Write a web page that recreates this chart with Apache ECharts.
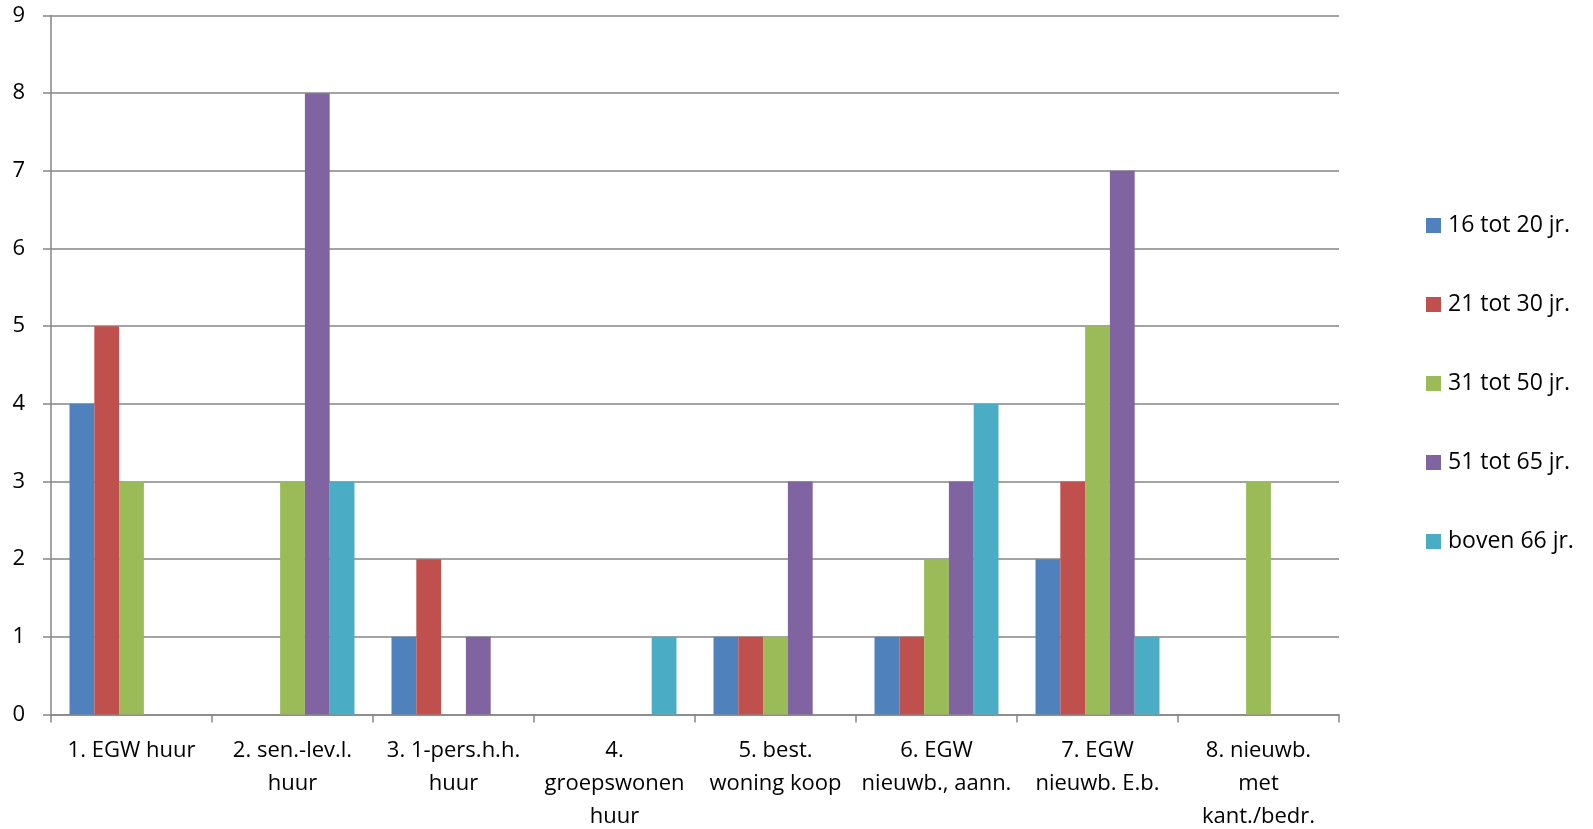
<!DOCTYPE html>
<html><head><meta charset="utf-8">
<script src="https://cdn.jsdelivr.net/npm/echarts@6/dist/echarts.min.js"></script>
<style>html,body{margin:0;padding:0;background:#fff}#c{width:1593px;height:829px}</style>
</head><body><div id="c"></div>
<script>
const categories = ["1. EGW huur","2. sen.-lev.l.\nhuur","3. 1-pers.h.h.\nhuur","4.\ngroepswonen\nhuur","5. best.\nwoning koop","6. EGW\nnieuwb., aann.","7. EGW\nnieuwb. E.b.","8. nieuwb.\nmet\nkant./bedr."];
const seriesNames = ["16 tot 20 jr.","21 tot 30 jr.","31 tot 50 jr.","51 tot 65 jr.","boven 66 jr."];
const s16_20 = [4,0,1,0,1,1,2,0];
const s21_30 = [5,0,2,0,1,1,3,0];
const s31_50 = [3,3,0,0,1,2,5,3];
const s51_65 = [0,8,1,0,3,3,7,0];
const s66plus = [0,3,0,1,0,4,1,0];
const yTicks = [0,1,2,3,4,5,6,7,8,9];
const colors = ["#4F81BD","#C0504D","#9BBB59","#8064A2","#4BACC6"];
const values = [s16_20,s21_30,s31_50,s51_65,s66plus];
const font = "Open Sans, Noto Sans, sans-serif";
const chart = echarts.init(document.getElementById('c'));
chart.setOption({
  animation:false,
  color:colors,
  grid:{left:51,right:254,top:15.5,bottom:114.5,containLabel:false,outerBoundsMode:'none'},
  legend:{orient:'vertical',left:1421,top:209,itemWidth:15,itemHeight:15,itemGap:56,
    icon:'rect',textStyle:{fontSize:23,lineHeight:22,color:'#000',fontFamily:font,padding:[0,0,0,2]},
    data:seriesNames},
  xAxis:{type:'category',data:categories,
    axisLine:{lineStyle:{color:'#868686',width:1.5}},
    axisTick:{show:true,length:8,alignWithLabel:false,lineStyle:{color:'#868686',width:1.5}},
    axisLabel:{interval:0,color:'#000',fontSize:22,fontFamily:font,lineHeight:33,margin:20}},
  yAxis:{type:'value',min:yTicks[0],max:yTicks[yTicks.length-1],interval:1,
    axisLine:{show:true,lineStyle:{color:'#868686',width:1.5}},
    axisTick:{show:true,length:8,lineStyle:{color:'#868686',width:1.5}},
    splitLine:{lineStyle:{color:'#868686',width:1.5}},
    axisLabel:{color:'#000',fontSize:22,fontFamily:font,margin:26}},
  series:seriesNames.map((n,i)=>({name:n,type:'bar',data:values[i],barGap:'0%',barCategoryGap:'23%'}))
});
</script></body></html>
